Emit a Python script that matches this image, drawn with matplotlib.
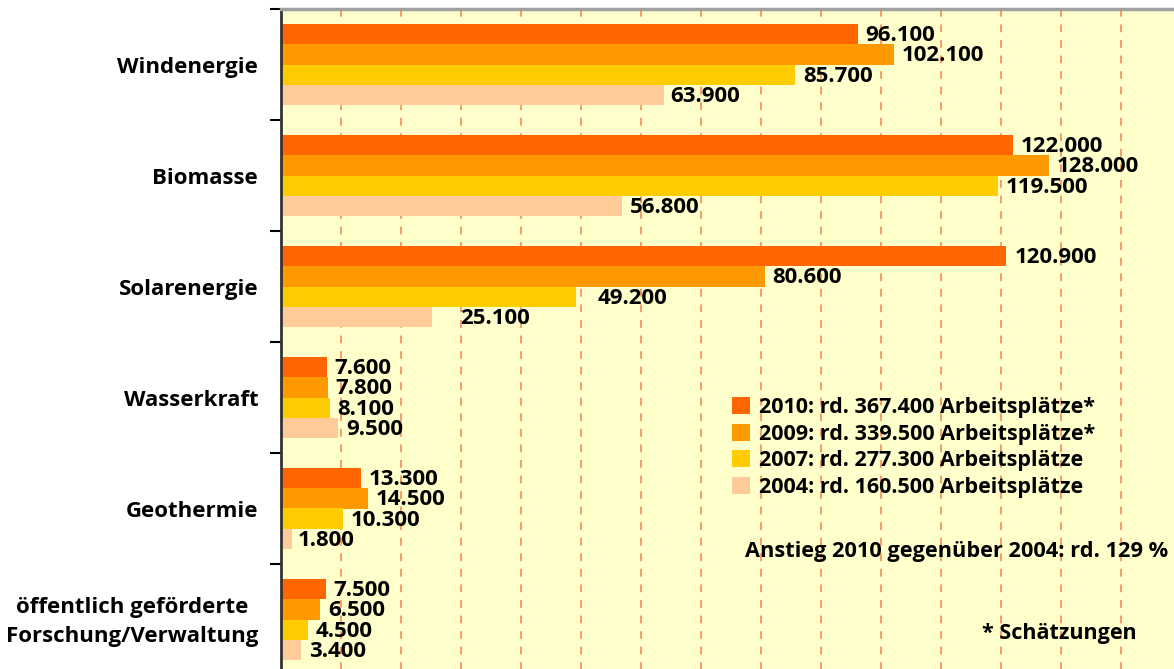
"""
Arbeitsplätze durch erneuerbare Energien nach Sparte (horizontal bars).
"""

import matplotlib

matplotlib.use("Agg")
import matplotlib.pyplot as plt  # noqa: E402
import numpy as np  # noqa: E402
from matplotlib.patches import Patch  # noqa: E402

categories = [
    "Windenergie",
    "Biomasse",
    "Solarenergie",
    "Wasserkraft",
    "Geothermie",
    "öffentlich geförderte\nForschung/Verwaltung",
]
series_names = [
    "2010: rd. 367.400 Arbeitsplätze*",
    "2009: rd. 339.500 Arbeitsplätze*",
    "2007: rd. 277.300 Arbeitsplätze",
    "2004: rd. 160.500 Arbeitsplätze",
]
jobs_2010 = [96100, 122000, 120900, 7600, 13300, 7500]
jobs_2009 = [102100, 128000, 80600, 7800, 14500, 6500]
jobs_2007 = [85700, 119500, 49200, 8100, 10300, 4500]
jobs_2004 = [63900, 56800, 25100, 9500, 1800, 3400]
series = [jobs_2010, jobs_2009, jobs_2007, jobs_2004]

colors = ["#FF6600", "#FF9900", "#FFCC00", "#FFCC99"]
bg = "#FFFFCC"
grid_col = "#FF9966"

plt.rcParams["font.family"] = ["Open Sans", "DejaVu Sans"]
plt.rcParams["font.weight"] = "bold"


def de_fmt(v):
    return f"{v:,}".replace(",", ".")


W, H = 1174, 669
fig = plt.figure(figsize=(W / 100, H / 100), dpi=100)
fig.patch.set_facecolor("white")


def fpx(x, y):
    # pixel position (from top-left) -> figure fraction
    return x / W, 1 - y / H


# axes in pixel coords: left 281, top 9, bottom runs a bit below the image
left, top, bottom = 281, 9, 675
ax = fig.add_axes([left / W, 1 - bottom / H, (W - left + 2) / W, (bottom - top) / H])
ax.set_facecolor(bg)

y = np.arange(len(categories))
bh = 0.184
offsets = (np.arange(4) - 1.5) * bh

for k, vals in enumerate(series):
    ax.barh(y + offsets[k], vals, height=bh, color=colors[k], zorder=2)

# label nudges (in data units) for labels Excel moved off the bar end
nudge = {(2, 3): 3500, (2, 2): 2200, (0, 3): -400, (4, 3): -400}
for k, vals in enumerate(series):
    for i, v in enumerate(vals):
        ax.text(v + 1300 + nudge.get((i, k), 0), y[i] + offsets[k] + 0.012, de_fmt(v),
                ha="left", va="center", fontsize=16, fontweight="bold", zorder=3)

ax.set_xlim(0, (W - left + 2) / 6 * 1000)
ax.set_ylim(len(categories) - 0.5, -0.5)

ax.set_xticks(np.arange(10000, 150000, 10000))
ax.tick_params(axis="x", length=0, labelbottom=False)
ax.xaxis.grid(True, color=grid_col, linestyle=(0, (4, 4)), linewidth=1.4, zorder=1)
ax.set_axisbelow(True)

ax.set_yticks(np.arange(-0.5, len(categories), 1.0))
ax.set_yticklabels([])
ax.tick_params(axis="y", length=8, width=1.5, color="black", direction="out")

for i, name in enumerate(categories):
    ax.text(-3800, y[i] + 0.025, name, ha="right", va="center", fontsize=16,
            fontweight="bold", multialignment="center", linespacing=1.5)

ax.spines["left"].set_color("#333333")
ax.spines["left"].set_linewidth(2)
ax.spines["top"].set_color("#A0A0A0")
ax.spines["top"].set_linewidth(2.5)
ax.spines["right"].set_visible(False)
ax.spines["bottom"].set_visible(False)

handles = [Patch(facecolor=c, edgecolor="none") for c in colors]
leg = ax.legend(handles, series_names, loc="upper left", bbox_to_anchor=fpx(732, 397),
                bbox_transform=fig.transFigure, frameon=False, fontsize=15.5,
                handlelength=0.85, handleheight=0.85, handletextpad=0.4,
                labelspacing=0.26, borderaxespad=0, borderpad=0)
for t in leg.get_texts():
    t.set_fontweight("bold")

fig.text(*fpx(1168, 552), "Anstieg 2010 gegenüber 2004: rd. 129 %",
         ha="right", va="center", fontsize=15.7, fontweight="bold")
fig.text(*fpx(1137, 633), "* Schätzungen",
         ha="right", va="center", fontsize=15.5, fontweight="bold")

fig.savefig("out.png", dpi=100, facecolor="white")
plt.close(fig)
